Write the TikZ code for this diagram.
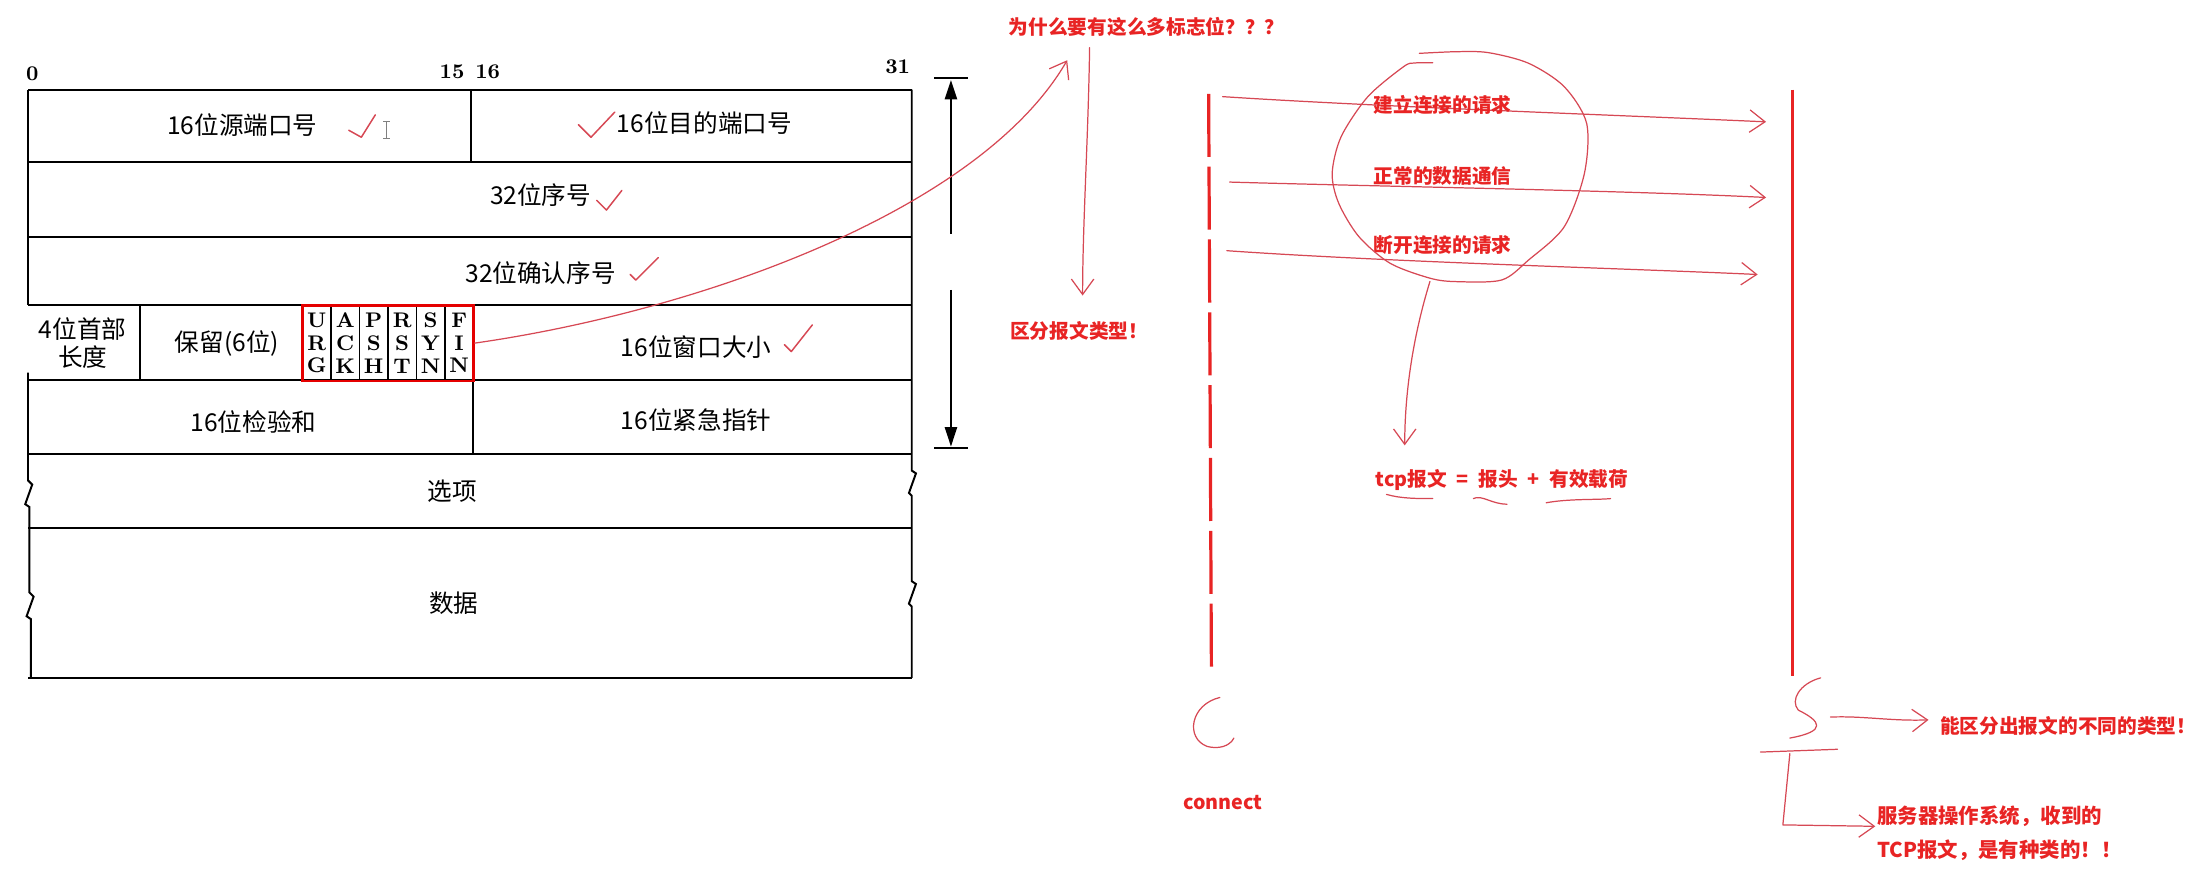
\documentclass[tikz,border=0pt]{standalone}
\usepackage{fontspec}
\newfontfamily\cjk{Noto Sans CJK SC}
\usetikzlibrary{arrows.meta}
\definecolor{inkred}{RGB}{232,36,36}
\definecolor{penred}{RGB}{214,72,84}

\begin{document}
\begin{tikzpicture}[
  x=0.2mm, y=-0.2mm,
  rule/.style={black, line width=0.8pt},
  field/.style={font=\cjk\fontsize{10}{12}\selectfont, inner sep=0pt},
  bitno/.style={font=\bfseries\fontsize{8.5}{9}\selectfont, inner sep=0pt},
  flag/.style={font=\bfseries\fontsize{8.6}{9.2}\selectfont, align=center,
               inner sep=0pt},
  flagbox/.style={draw=red!90!black, line width=1pt, inner sep=0pt,
                  minimum width=24.4mm, minimum height=10.8mm},
  note/.style={text=inkred, font=\cjk\bfseries\fontsize{8}{10}\selectfont,
               inner sep=0pt},
  hand/.style={penred, line width=0.5pt, line cap=round, line join=round},
  handarr/.style={hand, -{Straight Barb[length=2.2mm, width=3.2mm]}},
  life/.style={inkred, line width=1.3pt},
  span/.style={black, line width=1.1pt, -{Triangle[length=2.8mm, width=1.7mm]}},
]
\useasboundingbox (0,0) rectangle (1568,620);

% ---------------- header frame ------------------------------------------
\foreach \y in {64,116,169,218,271,324,377,484} {
  \draw[rule] (20,\y) -- (651,\y);
}
\draw[rule] (20,64) -- (20,218);
\draw[rule] (20,266) -- (20,343) -- (23,346) -- (18,360) -- (21,362)
  -- (21,423) -- (24,426) -- (19,440) -- (22,442) -- (22,484);
\draw[rule] (651,64) -- (651,336) -- (654,338) -- (649,352) -- (651,354)
  -- (651,415) -- (654,417) -- (649,431) -- (651,433) -- (651,484);
\draw[rule] (336,64) -- (336,116);
\draw[rule] (100,218) -- (100,271);
\draw[rule] (338,271) -- (338,324);

% ---------------- bit numbers -------------------------------------------
\node[bitno] (b0) at (23,53) {0};
\node[bitno, anchor=east] (b15) at (332,51) {15};
\node[bitno, anchor=west] (b16) at (339,51) {16};
\node[bitno] (b31) at (641,48) {31};

% ---------------- fields ------------------------------------------------
\node[field] (sport) at (173,89) {16位源端口号};
\node[field] (dport) at (503,88) {16位目的端口号};
\node[field] (seq) at (386,139) {32位序号};
\node[field] (ack) at (386,195) {32位确认序号};
\node[field, align=center, font=\cjk\fontsize{10}{11.5}\selectfont]
  (hlen) at (59,245) {4位首部\\长度};
\node[field] (resv) at (162,245) {保留(6位)};
\node[field] (win) at (497,248) {16位窗口大小};
\node[field] (csum) at (181,301) {16位检验和};
\node[field] (urg) at (497,300) {16位紧急指针};
\node[field] (opt) at (323,351) {选项};
\node[field] (data) at (324,431) {数据};

% ---------------- flag bits ---------------------------------------------
\foreach \k in {1,...,5} {
  \draw[black, line width=0.6pt] ({216+122/6*\k},218) -- ({216+122/6*\k},272);
}
\foreach \a/\b/\c [count=\i] in {U/R/G,A/C/K,P/S/H,R/S/T,S/Y/N,F/I/N} {
  \node[flag] (f\i) at ({216+122/6*(\i-0.5)},245) {\a\\\b\\\c};
}
\node[flagbox] (flags) at (277,245) {};

% ---------------- header length span ------------------------------------
\draw[rule] (667,56) -- (691,56);
\draw[rule] (667,320) -- (691,320);
\coordinate (spA) at (679,167);
\coordinate (spTop) at (679,57);
\coordinate (spB) at (679,207);
\coordinate (spBot) at (679,319);
\draw[span] (spA) -- (spTop);
\draw[span] (spB) -- (spBot);

% ---------------- ticks and cursor --------------------------------------
\draw[hand, line width=0.6pt] (249,93) -- (258,98) -- (268,82);
\draw[hand, line width=0.6pt] (413,89) -- (422,98) -- (439,80);
\draw[hand, line width=0.6pt] (426,143) -- (433,150) -- (444,136);
\draw[hand, line width=0.6pt] (450,196) -- (454,200) -- (470,184);
\draw[hand, line width=0.6pt] (560,246) -- (565,251) -- (580,232);
\draw[gray, line width=0.5pt] (276,87) -- (276,99)
  (273.5,87) -- (278.5,87) (273.5,99) -- (278.5,99);

% ---------------- why so many flags -------------------------------------
\node[note, anchor=west] (why) at (720,19) {为什么要有这么多标志位？？？};
\coordinate (qtip) at (762,43);
\draw[handarr] (flags.east) .. controls (500,222) and (700,150) .. (qtip);
\node[note, anchor=west] (kind) at (721,236) {区分报文类型！};
\coordinate (wTop) at (778,34);
\coordinate (wTip) at (773,211);
\draw[handarr] (wTop) .. controls (777,100) and (773,160) .. (wTip);

% ---------------- client and server -------------------------------------
\coordinate (cTop) at (863,67);
\coordinate (cBot) at (865,483);
\coordinate (sTop) at (1280,64);
\coordinate (sBot) at (1280,483);
\draw[life, dash pattern=on 9mm off 1.4mm] (cTop) -- (cBot);
\draw[life] (sTop) -- (sBot);

\coordinate (m1a) at (873,69);   \coordinate (m1b) at (1261,87);
\coordinate (m2a) at (878,130);  \coordinate (m2b) at (1261,141);
\coordinate (m3a) at (876,179);  \coordinate (m3b) at (1255,196);
\draw[handarr] (m1a) .. controls (980,76) and (1150,82) .. (m1b);
\draw[handarr] (m2a) .. controls (980,133) and (1160,136) .. (m2b);
\draw[handarr] (m3a) .. controls (990,187) and (1170,192) .. (m3b);
\node[note] (req1) at (1030,75) {建立连接的请求};
\node[note] (req2) at (1030,126) {正常的数据通信};
\node[note] (req3) at (1030,175) {断开连接的请求};

% ring round the three kinds
\draw[hand] plot[smooth] coordinates {(1013.4,38.1) (1040.4,36.9)
  (1062.8,37.6) (1091.5,45.2) (1116.9,61.9) (1132.9,88.1) (1131.3,123.8)
  (1116.9,161.9) (1091.5,185.6) (1072.3,199.9) (1040.4,201.1) (1021.3,198.7)
  (992.6,188) (970.3,169) (955.9,145.2) (951.2,123.8) (957.6,97.6)
  (976.7,69) (1002.2,47.6) (1010,45) (1023,44.8)};
\coordinate (ringBot) at (1021,201);
\coordinate (tTip) at (1003,318);
\draw[handarr] (ringBot) .. controls (1009,240) and (1003,280) .. (tTip);

\node[note, anchor=west] (tcp) at (982,343)
  {tcp报文\hspace{1.4mm}=\hspace{1.4mm}报头\hspace{1.4mm}+\hspace{1.4mm}有效载荷};
\draw[hand] (990,353) .. controls (1000,356) and (1012,356) .. (1023,356);
\draw[hand] (1052,356) .. controls (1058,353) and (1065,360) .. (1076,360);
\draw[hand] (1104,359) .. controls (1120,356) and (1140,357) .. (1150,356);

% ---------------- C and S -----------------------------------------------
\draw[hand] (871,498) .. controls (850,503) and (846,527) .. (862,533)
  .. controls (870,535) and (878,533) .. (881,527);
\node[note] (conn) at (873,573) {connect};

\draw[hand] (1300,484) .. controls (1285,488) and (1278,500) .. (1284,507)
  .. controls (1300,515) and (1305,522) .. (1278,527);
\node[note, anchor=west] (diff) at (1385,518) {能区分出报文的不同的类型！};
\coordinate (sOut) at (1307,512);
\coordinate (sTip) at (1377,514);
\draw[handarr] (sOut) .. controls (1330,511) and (1350,515) .. (sTip);

\draw[hand] (1257,537) -- (1312,535);
\coordinate (osA) at (1278,538);
\coordinate (osB) at (1273,589);
\coordinate (osTip) at (1339,590);
\draw[handarr] (osA) -- (osB) -- (osTip);
\node[note, anchor=west, align=left, font=\cjk\bfseries\fontsize{8.3}{13.6}\selectfont]
  (os) at (1340,595) {服务器操作系统，收到的\\TCP报文，是有种类的！！};

\end{tikzpicture}
\end{document}
